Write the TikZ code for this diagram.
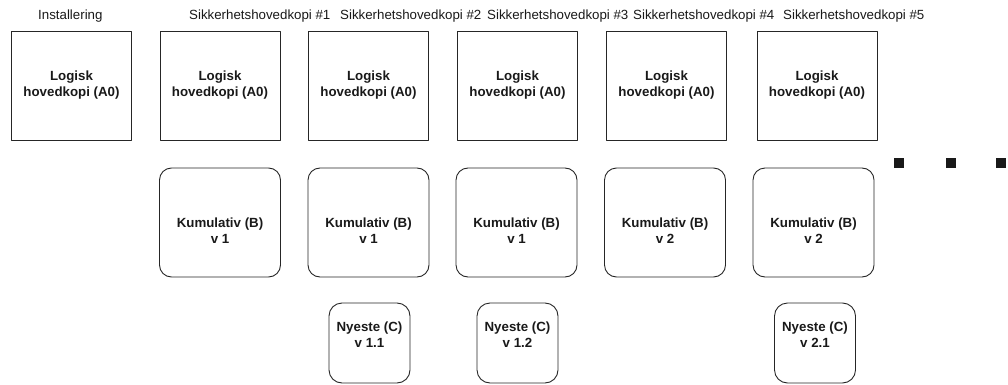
\documentclass[tikz,border=0pt]{standalone}
\usepackage{fontspec}
\setmainfont{Liberation Sans}
\begin{document}
\begin{tikzpicture}[x=1pt,y=-1pt,
  line join=round,
  mainbox/.style={draw=black!85, line width=0.9pt, minimum width=120pt, minimum height=109pt, inner sep=0pt},
  cumbox/.style={draw=black!85, line width=0.9pt, rounded corners=12pt, minimum width=121pt, minimum height=109pt, inner sep=0pt},
  newbox/.style={draw=black!85, line width=0.9pt, rounded corners=13pt, minimum width=81pt, minimum height=80pt, inner sep=0pt},
  lbl/.style={font=\bfseries\fontsize{13.3}{16}\selectfont, align=center, inner sep=0pt, text=black!90},
  hdr/.style={font=\fontsize{13.3}{16}\selectfont, anchor=base west, inner sep=0pt, text=black!90},
  dotsq/.style={fill=black!90, minimum size=10pt, inner sep=0pt}]
\useasboundingbox (0,0) rectangle (1008,385);

% headers
\node[hdr] (h0) at (38,20) {Installering};
\node[hdr] (h1) at (189,20) {Sikkerhetshovedkopi \#1};
\node[hdr] (h2) at (340,20) {Sikkerhetshovedkopi \#2};
\node[hdr] (h3) at (487,20) {Sikkerhetshovedkopi \#3};
\node[hdr] (h4) at (633,20) {Sikkerhetshovedkopi \#4};
\node[hdr] (h5) at (783,20) {Sikkerhetshovedkopi \#5};

% top row
\foreach \i/\x in {0/71.5,1/220,2/368.5,3/517.5,4/666.5,5/817}{
  \node[mainbox] (a\i) at (\x,85.5) {};
  \node[lbl] (at\i) at (a\i.center) {Logisk\\hovedkopi (A0)};
}

% cumulative row
\foreach \i/\x/\v in {1/220/1,2/368.5/1,3/516.5/1,4/665/2,5/813.5/2}{
  \node[cumbox] (b\i) at (\x,222.5) {};
  \node[lbl] (bt\i) at ([yshift=-8.5pt]b\i.center) {Kumulativ (B)\\v \v};
}

% newest row
\foreach \i/\x/\v in {2/369.5/1.1,3/517.5/1.2,5/815/2.1}{
  \node[newbox] (c\i) at (\x,343) {};
  \node[lbl] (ct\i) at ([yshift=8.3pt]c\i.center) {Nyeste (C)\\v \v};
}

% continuation dots
\node[dotsq] (d1) at (899,162.5) {};
\node[dotsq] (d2) at (951,162.5) {};
\node[dotsq] (d3) at (1001,162.5) {};
\end{tikzpicture}
\end{document}
